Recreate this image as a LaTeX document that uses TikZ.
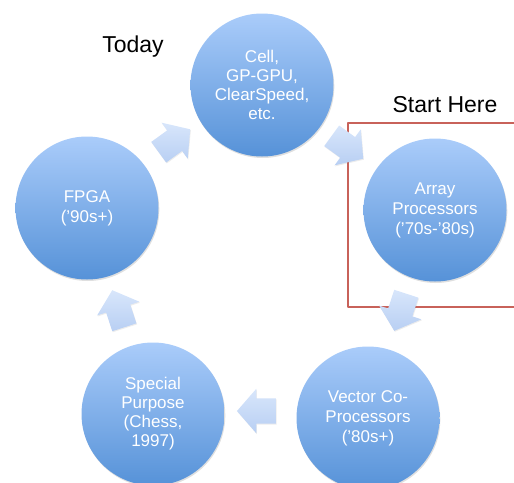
\documentclass[tikz,border=0pt]{standalone}
\usepackage{fontspec}
\setmainfont{Liberation Sans}
\usetikzlibrary{shapes.arrows,shadows}

\definecolor{ballTop}{RGB}{170,204,250}
\definecolor{ballBottom}{RGB}{86,146,216}
\definecolor{arrowLight}{RGB}{216,230,251}
\definecolor{arrowDark}{RGB}{184,207,243}
\definecolor{frameRed}{RGB}{200,98,90}

\begin{document}
\begin{tikzpicture}[x=1pt, y=-1pt, line join=round,
    era/.style={circle, minimum size=143pt, inner sep=0pt, draw=none,
      top color=ballTop, bottom color=ballBottom,
      drop shadow={opacity=0.25, shadow xshift=0.8pt, shadow yshift=-1.5pt},
      text=white, align=center, font=\fontsize{17}{20}\selectfont},
    crowded/.style={font=\fontsize{17}{19}\selectfont},
    flow/.style={single arrow, minimum height=39pt,
      single arrow head extend=9.5pt, single arrow tip angle=98,
      inner xsep=0pt, inner ysep=12.5pt, draw=none,
      top color=arrowLight, bottom color=arrowDark,
      drop shadow={opacity=0.15, shadow xshift=0.6pt, shadow yshift=-1pt}},
    note/.style={font=\fontsize{23}{27}\selectfont}]
  \useasboundingbox (0,0) rectangle (514,482);
  \clip (0,0) rectangle (514,482);

  % Khung quanh điểm bắt đầu
  \draw[frameRed, line width=2.2pt] (520,123) -- (348,123) -- (348,307) -- (520,307);

  % Các vòng tròn của chu trình
  \node[era, crowded] (cell) at (262,85) {Cell,\\GP-GPU,\\ClearSpeed,\\etc.};
  \node[era] (array) at (435,210) {Array\\Processors\\(’70s-’80s)};
  \node[era] (vector) at (368,418) {Vector Co-\\Processors\\(’80s+)};
  \node[era, crowded] (special) at (153,414) {Special\\Purpose\\(Chess,\\1997)};
  \node[era] (fpga) at (87,208) {FPGA\\(’90s+)};

  % Mũi tên khối giữa các vòng tròn
  \node[flow, rotate=-36] (cellToArray) at (343,144) {};
  \node[flow, rotate=-108] (arrayToVector) at (402,307) {};
  \node[flow, rotate=180] (vectorToSpecial) at (262,411) {};
  \node[flow, rotate=108] (specialToFpga) at (120,314) {};
  \node[flow, rotate=36] (fpgaToCell) at (170,144) {};

  % Nhãn
  \node[note] (today) at (133,47) {Today};
  \node[note] (start) at (445,105) {Start Here};
\end{tikzpicture}
\end{document}
